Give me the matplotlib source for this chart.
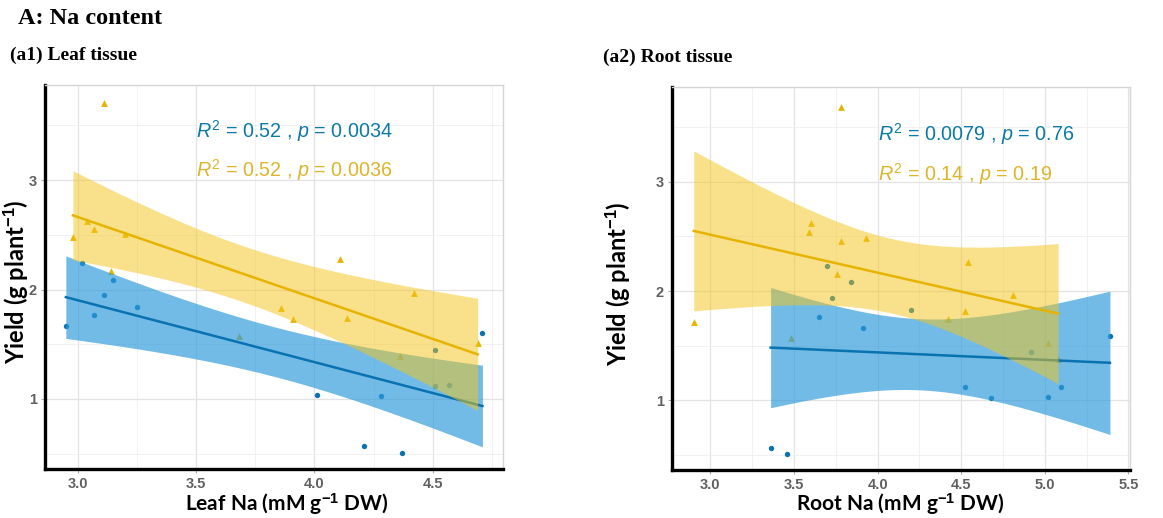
import numpy as np
import matplotlib
matplotlib.use("Agg")
import matplotlib.pyplot as plt
from matplotlib.ticker import FixedLocator

plt.rcParams['mathtext.fontset'] = 'custom'
plt.rcParams['mathtext.rm'] = 'Liberation Sans'
plt.rcParams['mathtext.it'] = 'Liberation Sans:italic'
plt.rcParams['mathtext.bf'] = 'Liberation Sans:bold'

# ---------------- data ----------------
leaf_blue_x = [2.95, 3.02, 3.07, 3.11, 3.15, 3.25, 4.01, 4.21, 4.28, 4.37, 4.51, 4.51, 4.57, 4.71]
leaf_blue_y = [1.67, 2.24, 1.77, 1.95, 2.09, 1.84, 1.04, 0.57, 1.03, 0.51, 1.45, 1.12, 1.13, 1.60]
leaf_yel_x = [2.98, 3.04, 3.07, 3.11, 3.14, 3.20, 3.68, 3.86, 3.91, 4.11, 4.14, 4.36, 4.42, 4.69]
leaf_yel_y = [2.48, 2.63, 2.55, 3.71, 2.17, 2.51, 1.575, 1.83, 1.73, 2.28, 1.74, 1.39, 1.97, 1.51]

root_blue_x = [3.36, 3.46, 3.65, 3.70, 3.73, 3.84, 3.91, 4.20, 4.52, 4.68, 4.92, 5.02, 5.10, 5.39]
root_blue_y = [0.56, 0.51, 1.76, 2.23, 1.94, 2.08, 1.66, 1.83, 1.12, 1.02, 1.44, 1.03, 1.12, 1.59]
root_yel_x = [2.90, 3.48, 3.59, 3.60, 3.76, 3.78, 3.78, 3.93, 4.42, 4.52, 4.54, 4.81, 5.02, 5.08]
root_yel_y = [1.72, 1.57, 2.54, 2.62, 2.16, 3.69, 2.46, 2.49, 1.74, 1.82, 2.27, 1.96, 1.52, 1.38]

leaf_labels = [r'$\mathit{R}^2$ = 0.52 , $\mathit{p}$ = 0.0034', r'$\mathit{R}^2$ = 0.52 , $\mathit{p}$ = 0.0036']
root_labels = [r'$\mathit{R}^2$ = 0.0079 , $\mathit{p}$ = 0.76', r'$\mathit{R}^2$ = 0.14 , $\mathit{p}$ = 0.19']

T_CRIT = {10: 2.2281, 11: 2.2010, 12: 2.1788, 13: 2.1604}

BLUE = '#0A72B0'
BLUE_FILL = '#2E9BDB'
YEL = '#E6B400'
YEL_FILL = '#F5C518'
BLUE_TXT = '#0B7AA6'
YEL_TXT = '#DDB52A'


def lm_band(x, y):
    x = np.asarray(x, float)
    y = np.asarray(y, float)
    n = len(x)
    xm, ym = x.mean(), y.mean()
    sxx = ((x - xm) ** 2).sum()
    b1 = ((x - xm) * (y - ym)).sum() / sxx
    b0 = ym - b1 * xm
    s = np.sqrt(((y - (b0 + b1 * x)) ** 2).sum() / (n - 2))
    xs = np.linspace(x.min(), x.max(), 100)
    yh = b0 + b1 * xs
    se = s * np.sqrt(1.0 / n + (xs - xm) ** 2 / sxx)
    t = T_CRIT[n - 2]
    return xs, yh, yh - t * se, yh + t * se


fig = plt.figure(figsize=(11.63, 5.18), dpi=100)

W, H = 1163.0, 518.0


def make_ax(left, right, top, bottom):
    return fig.add_axes([left / W, 1 - bottom / H, (right - left) / W, (bottom - top) / H])


def style(ax, xlim, xmaj, xmin):
    ax.set_xlim(*xlim)
    ax.set_ylim(0.36, 3.87)
    ax.xaxis.set_major_locator(FixedLocator(xmaj))
    ax.xaxis.set_minor_locator(FixedLocator(xmin))
    ax.yaxis.set_major_locator(FixedLocator([1, 2, 3]))
    ax.yaxis.set_minor_locator(FixedLocator([0.5, 1.5, 2.5, 3.5]))
    ax.set_xticklabels([f'{v:.1f}' for v in xmaj])
    ax.set_yticklabels(['1', '2', '3'])
    ax.grid(which='major', color='#E3E3E3', lw=0.9, zorder=0)
    ax.grid(which='minor', color='#EFEFEF', lw=0.6, zorder=0)
    ax.set_axisbelow(True)
    for sp in ['top', 'right']:
        ax.spines[sp].set_color('#D5D5D5')
        ax.spines[sp].set_linewidth(1.0)
    for sp in ['left', 'bottom']:
        ax.spines[sp].set_color('black')
        ax.spines[sp].set_linewidth(2.4)
    ax.tick_params(which='major', length=3, width=0.8, color='#AAAAAA', pad=3)
    ax.tick_params(which='minor', length=0)
    for lab in ax.get_xticklabels() + ax.get_yticklabels():
        lab.set_fontfamily('Liberation Sans')
        lab.set_fontweight('bold')
        lab.set_fontsize(10.5)
        lab.set_color('#606060')


def draw(ax, bx, by, yx, yy, labels, lx, ly):
    ax.scatter(bx, by, s=15, marker='o', color=BLUE, zorder=2, linewidths=0)
    ax.scatter(yx, yy, s=24, marker='^', color=YEL, zorder=2, linewidths=0)
    xs, yh, lo, hi = lm_band(bx, by)
    ax.fill_between(xs, lo, hi, color=BLUE_FILL, alpha=0.68, lw=0, zorder=3)
    ax.plot(xs, yh, color=BLUE, lw=1.8, zorder=3)
    xs, yh, lo, hi = lm_band(yx, yy)
    ax.fill_between(xs, lo, hi, color=YEL_FILL, alpha=0.5, lw=0, zorder=4)
    ax.plot(xs, yh, color=YEL, lw=1.8, zorder=4)
    ax.text(lx, ly[0], labels[0], color=BLUE_TXT, fontsize=14.2, ha='left', va='center',
            family='Liberation Sans', zorder=5)
    ax.text(lx, ly[1], labels[1], color=YEL_TXT, fontsize=14.2, ha='left', va='center',
            family='Liberation Sans', zorder=5)


ax1 = make_ax(45, 503, 85, 469)
style(ax1, (2.862, 4.797), [3.0, 3.5, 4.0, 4.5], [3.25, 3.75, 4.25, 4.75])
draw(ax1, leaf_blue_x, leaf_blue_y, leaf_yel_x, leaf_yel_y, leaf_labels, 3.5, (3.45, 3.09))

ax2 = make_ax(672, 1130, 87, 470)
style(ax2, (2.77, 5.51), [3.0, 3.5, 4.0, 4.5, 5.0, 5.5], [2.75, 3.25, 3.75, 4.25, 4.75, 5.25])
draw(ax2, root_blue_x, root_blue_y, root_yel_x, root_yel_y, root_labels, 4.0, (3.44, 3.07))

xlab_font = dict(family=['Lato', 'DejaVu Sans'], fontweight='bold', fontsize=15, color='black')
ylab_font = dict(family=['Lato', 'DejaVu Sans'], fontweight='bold', fontsize=17, color='black')
ax1.set_xlabel(r'Leaf Na (mM g$^{\mathbf{-1}}$ DW)', va='center', **xlab_font)
ax2.set_xlabel(r'Root Na (mM g$^{\mathbf{-1}}$ DW)', va='center', **xlab_font)
ax1.set_ylabel(r'Yield (g plant$^{\mathbf{-1}}$)', va='center', **ylab_font)
ax2.set_ylabel(r'Yield (g plant$^{\mathbf{-1}}$)', va='center', **ylab_font)
ax1.xaxis.set_label_coords((287 - 45) / 458, -(504 - 469) / 384)
ax2.xaxis.set_label_coords((900 - 672) / 458, -(504 - 470) / 383)
ax1.yaxis.set_label_coords(-(45 - 16) / 458, (469 - 282) / 384)
ax2.yaxis.set_label_coords(-(672 - 618) / 458, (470 - 284) / 383)

fig.text(18 / W, 1 - 18 / H, 'A: Na content', family='Liberation Serif', fontweight='bold',
         fontsize=17.5, ha='left', va='center')
fig.text(10 / W, 1 - 55 / H, '(a1) Leaf tissue', family='Liberation Serif', fontweight='bold',
         fontsize=14, ha='left', va='center')
fig.text(603 / W, 1 - 57 / H, '(a2) Root tissue', family='Liberation Serif', fontweight='bold',
         fontsize=14, ha='left', va='center')

fig.savefig('out.png', dpi=100)
